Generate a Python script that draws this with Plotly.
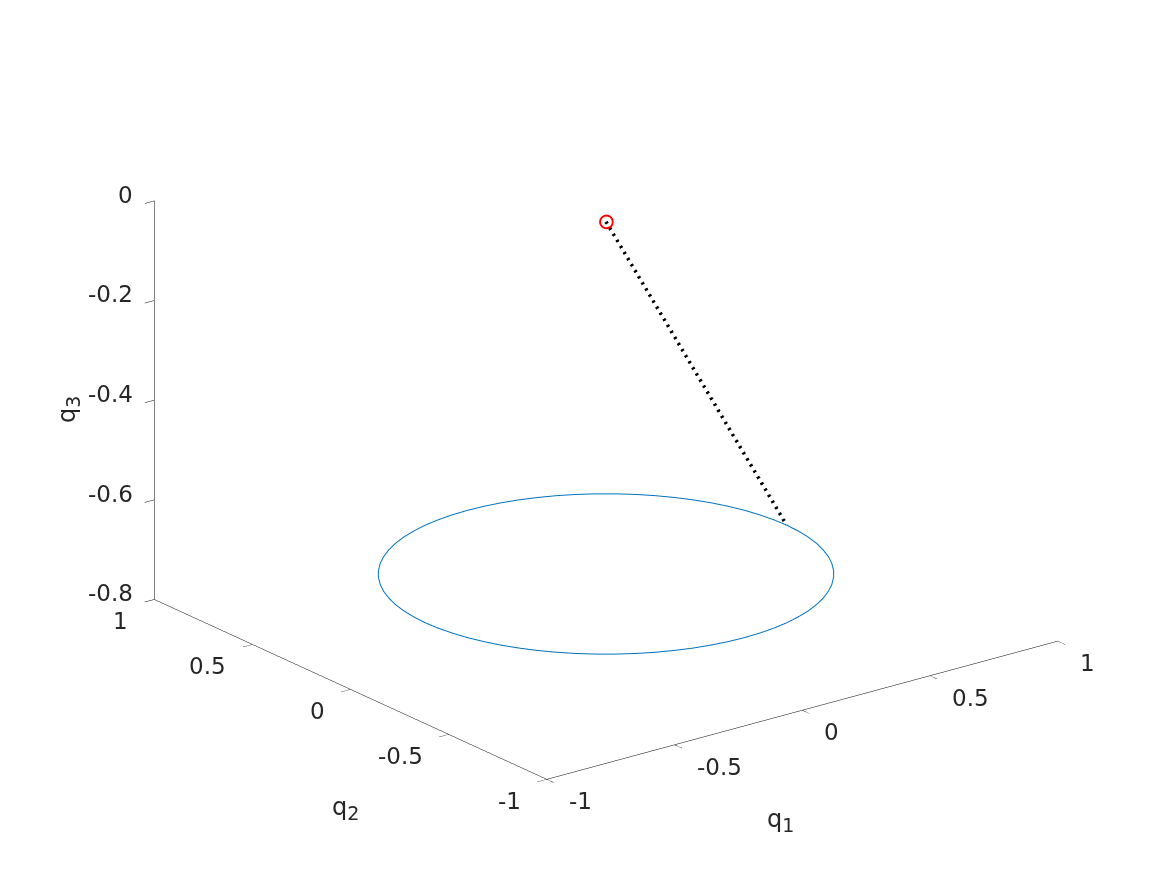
import plotly.graph_objects as go

# circle traced by the tip (radius ~0.707 at q3 ~ -0.707)
circle_q1 = [0.707, 0.704, 0.696, 0.683, 0.664, 0.641, 0.612, 0.579, 0.542, 0.500,
             0.454, 0.406, 0.354, 0.299, 0.242, 0.183, 0.123, 0.062, 0.0,
             -0.062, -0.123, -0.183, -0.242, -0.299, -0.354, -0.406, -0.454, -0.500,
             -0.542, -0.579, -0.612, -0.641, -0.664, -0.683, -0.696, -0.704, -0.707,
             -0.704, -0.696, -0.683, -0.664, -0.641, -0.612, -0.579, -0.542, -0.500,
             -0.454, -0.406, -0.354, -0.299, -0.242, -0.183, -0.123, -0.062, 0.0,
             0.062, 0.123, 0.183, 0.242, 0.299, 0.354, 0.406, 0.454, 0.500,
             0.542, 0.579, 0.612, 0.641, 0.664, 0.683, 0.696, 0.704, 0.707]
circle_q2 = [0.0, 0.062, 0.123, 0.183, 0.242, 0.299, 0.354, 0.406, 0.454, 0.500,
             0.542, 0.579, 0.612, 0.641, 0.664, 0.683, 0.696, 0.704, 0.707,
             0.704, 0.696, 0.683, 0.664, 0.641, 0.612, 0.579, 0.542, 0.500,
             0.454, 0.406, 0.354, 0.299, 0.242, 0.183, 0.123, 0.062, 0.0,
             -0.062, -0.123, -0.183, -0.242, -0.299, -0.354, -0.406, -0.454, -0.500,
             -0.542, -0.579, -0.612, -0.641, -0.664, -0.683, -0.696, -0.704, -0.707,
             -0.704, -0.696, -0.683, -0.664, -0.641, -0.612, -0.579, -0.542, -0.500,
             -0.454, -0.406, -0.354, -0.299, -0.242, -0.183, -0.123, -0.062, 0.0]
circle_q3 = [-0.707] * len(circle_q1)

# rod from the pivot to the current position
rod_q1 = [0.0, 0.707]
rod_q2 = [0.0, 0.0]
rod_q3 = [0.0, -0.707]

pivot = dict(q1=[0.0], q2=[0.0], q3=[0.0])

tick_xy = [-1, -0.5, 0, 0.5, 1]
tick_z = [-0.8, -0.6, -0.4, -0.2, 0]
x_range = [-1, 1]
y_range = [-1, 1]
z_range = [-0.8, 0]

FONT = 'DejaVu Sans, Liberation Sans, sans-serif'
TXT = '#262626'

fig = go.Figure()

fig.add_trace(go.Scatter3d(
    x=circle_q1, y=circle_q2, z=circle_q3,
    mode='lines',
    line=dict(color='#0072BD', width=2),
    showlegend=False, hoverinfo='skip'
))

fig.add_trace(go.Scatter3d(
    x=rod_q1, y=rod_q2, z=rod_q3,
    mode='lines',
    line=dict(color='black', width=7, dash='dash'),
    showlegend=False, hoverinfo='skip'
))

fig.add_trace(go.Scatter3d(
    x=pivot['q1'], y=pivot['q2'], z=pivot['q3'],
    mode='markers',
    marker=dict(symbol='circle-open', size=8, color='red', line=dict(color='red', width=3)),
    showlegend=False, hoverinfo='skip'
))


def axis_style(ticks, rng):
    return dict(
        title=dict(text=''),
        range=rng,
        tickvals=ticks,
        showticklabels=False,
        showbackground=False,
        showgrid=False,
        zeroline=False,
        showline=True,
        linecolor='black',
        linewidth=1,
        ticks='outside',
        tickcolor='black',
        ticklen=12,
        showspikes=False,
        autorange=False,
    )


def tick_label(x, y, z, value, anchor, dx, dy):
    # MATLAB keeps its tick labels flat on screen, so they are pinned to the
    # axis position and nudged out by a few pixels
    return dict(x=x, y=y, z=z, text=f'{value:g}', showarrow=False,
                xanchor=anchor, yanchor='middle', xshift=dx, yshift=dy,
                font=dict(family=FONT, size=23, color=TXT))


scene_labels = []
for t in tick_xy:
    scene_labels.append(tick_label(t, y_range[0], z_range[0], t, 'left', 20, -22))
for t in tick_xy:
    scene_labels.append(tick_label(x_range[0], t, z_range[0], t, 'right', -24, -22))
for t in tick_z:
    scene_labels.append(tick_label(x_range[0], y_range[1], t, t, 'right', -19, 6))


def axis_title(text, sub, x, y, angle=0):
    label = f'{text}<sub><span style="font-size:19px">{sub}</span></sub>'
    return dict(text=label, x=x / 1167, y=1 - y / 875, xref='paper', yref='paper',
                xanchor='center', yanchor='middle',
                showarrow=False, textangle=angle,
                font=dict(family=FONT, size=24, color=TXT))


# MATLAB view(-37.5, 30) with stretch-to-fill, emulated in an isotropic ortho view
# (in orthographic mode the zoom lives in the aspect ratio)
zoom = 1.560
fig.update_layout(
    width=1167, height=875,
    paper_bgcolor='white',
    margin=dict(l=0, r=0, t=0, b=0),
    scene=dict(
        domain=dict(x=[0.0249, 1.0], y=[0.0561, 1.0]),
        xaxis=axis_style(tick_xy, x_range),
        yaxis=axis_style(tick_xy, y_range),
        zaxis=axis_style(tick_z, z_range),
        aspectmode='manual',
        aspectratio=dict(x=zoom, y=zoom, z=0.661 * zoom),
        camera=dict(
            projection=dict(type='orthographic'),
            eye=dict(x=-0.570 * 1.2, y=-0.742 * 1.2, z=0.352 * 1.2),
            center=dict(x=0, y=0, z=0),
            up=dict(x=0, y=0, z=1),
        ),
        annotations=scene_labels,
    ),
    annotations=[
        axis_title('q', '1', 772, 812),
        axis_title('q', '2', 337, 800),
        axis_title('q', '3', 60, 402, -90),
    ],
)

fig.write_html('out.html')
